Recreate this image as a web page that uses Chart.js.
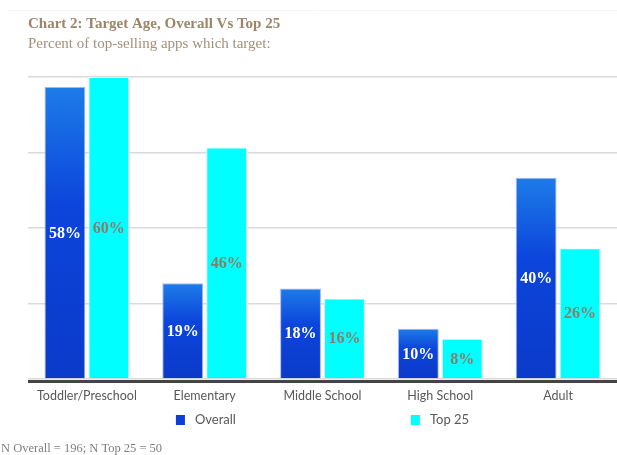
<!DOCTYPE html>
<html><head><meta charset="utf-8">
<script src="https://cdn.jsdelivr.net/npm/chart.js@4.4.1/dist/chart.umd.min.js"></script>
<style>html,body{margin:0;padding:0;background:#fff;}#wrap{width:617px;height:455px;}</style>
</head><body><div id="wrap"><canvas id="c" width="617" height="455"></canvas></div>
<script>
const categories = ['Toddler/Preschool', 'Elementary', 'Middle School', 'High School', 'Adult'];
const overall = [58, 19, 18, 10, 40];
const top25 = [60, 46, 16, 8, 26];
const seriesNames = ['Overall', 'Top 25'];
const yTicks = [0, 15, 30, 45, 60];
const titleText = 'Chart 2: Target Age, Overall Vs Top 25';
const subtitleText = 'Percent of top-selling apps which target:';
const footnoteText = 'N Overall = 196; N Top 25 = 50';

const BLUE = '#0b3fd6';
const CYAN = '#00ffff';

function blueFill(ctx) {
  const chart = ctx.chart;
  if (!chart.chartArea || ctx.type !== 'data') return BLUE;
  const ys = chart.scales.y;
  const t = ys.getPixelForValue(ctx.raw), b = ys.getPixelForValue(0);
  const g = chart.ctx.createLinearGradient(0, t, 0, b);
  g.addColorStop(0, '#1d7ce8');
  g.addColorStop(0.4, '#0c45db');
  g.addColorStop(1, '#0b3ac9');
  return g;
}

const decor = {
  id: 'decor',
  beforeDraw(chart) {
    const {ctx} = chart;
    ctx.save();
    ctx.strokeStyle = '#f4f4f4';
    ctx.lineWidth = 1;
    ctx.beginPath();
    ctx.moveTo(8, 10.5);
    ctx.lineTo(617, 10.5);
    ctx.stroke();
    ctx.restore();
  },
  afterDatasetsDraw(chart) {
    const {ctx, chartArea, scales} = chart;
    const y0 = scales.y.getPixelForValue(0);
    ctx.save();
    ctx.strokeStyle = '#444444';
    ctx.lineWidth = 3;
    ctx.beginPath();
    ctx.moveTo(chartArea.left, y0 + 2.5);
    ctx.lineTo(chartArea.right, y0 + 2.5);
    ctx.stroke();
    ctx.textAlign = 'center';
    ctx.textBaseline = 'middle';
    ctx.font = 'bold 16px "Liberation Serif"';
    chart.data.datasets.forEach((ds, di) => {
      const meta = chart.getDatasetMeta(di);
      ctx.fillStyle = di === 0 ? '#ffffff' : '#8a7c6a';
      meta.data.forEach((bar, i) => {
        ctx.fillText(ds.data[i] + '%', bar.x, (bar.y + bar.base) / 2 + 1);
      });
    });
    ctx.restore();
  },
  afterDraw(chart) {
    const {ctx, chartArea} = chart;
    ctx.save();
    ctx.font = '13px Lato';
    ctx.textBaseline = 'middle';
    ctx.textAlign = 'left';
    const box = 9, gapTxt = 10, gapItem = 175;
    const widths = seriesNames.map(n => box + gapTxt + ctx.measureText(n).width);
    const total = widths[0] + gapItem + widths[1];
    let x = (chartArea.left + chartArea.right) / 2 - total / 2;
    const yc = 420;
    const colors = [BLUE, CYAN];
    seriesNames.forEach((n, i) => {
      ctx.fillStyle = colors[i];
      ctx.fillRect(x, yc - 5, box, 10);
      ctx.fillStyle = '#595959';
      ctx.fillText(n, x + box + gapTxt, yc);
      x += widths[i] + gapItem;
    });
    ctx.font = '12.5px "Liberation Serif"';
    ctx.fillStyle = '#7f7f7f';
    ctx.fillText(footnoteText, 1, 449);
    ctx.restore();
  }
};

new Chart(document.getElementById('c'), {
  type: 'bar',
  data: {
    labels: categories,
    datasets: [
      {label: seriesNames[0], data: overall, backgroundColor: blueFill, borderColor: '#a9b5ef', borderWidth: 1},
      {label: seriesNames[1], data: top25, backgroundColor: CYAN, borderColor: '#d8ffff', borderWidth: 1}
    ]
  },
  options: {
    responsive: false,
    animation: false,
    devicePixelRatio: 1,
    layout: {padding: {left: 28, right: 0, top: 0, bottom: 42}},
    datasets: {bar: {categoryPercentage: 0.746, barPercentage: 0.93}},
    plugins: {
      legend: {display: false},
      tooltip: {enabled: false},
      title: {
        display: true, text: titleText, align: 'start', color: '#9b8669',
        font: {family: '"Liberation Serif"', size: 15, weight: 'bold', lineHeight: 1.0},
        padding: {top: 17, bottom: 0}
      },
      subtitle: {
        display: true, text: subtitleText, align: 'start', color: '#a39179',
        font: {family: '"Liberation Serif"', size: 15, weight: 'normal', lineHeight: 1.0},
        padding: {top: 5, bottom: 25}
      }
    },
    scales: {
      x: {
        grid: {display: false, drawTicks: false},
        border: {display: false},
        ticks: {color: '#595959', font: {family: 'Lato', size: 12.5}, padding: 9.5, maxRotation: 0, autoSkip: false}
      },
      y: {
        min: 0, max: 60,
        afterBuildTicks(axis) { axis.ticks = yTicks.map(v => ({value: v})); },
        grid: {color: '#dadada', lineWidth: 1.5, drawTicks: false},
        border: {display: false},
        ticks: {display: false}
      }
    }
  },
  plugins: [decor]
});
</script>
</body></html>
